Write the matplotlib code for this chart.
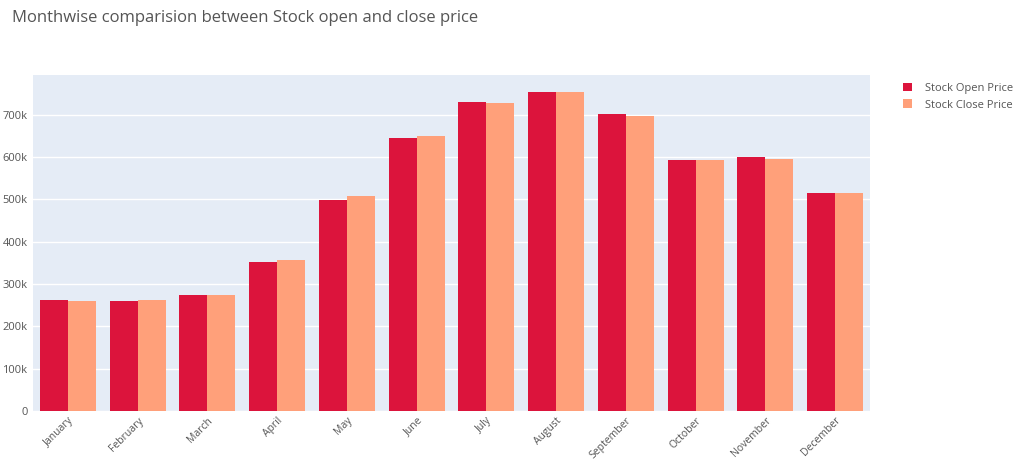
import numpy as np
import matplotlib.pyplot as plt
from matplotlib.ticker import FuncFormatter

plt.rcParams['font.family'] = ['Open Sans', 'DejaVu Sans']

# Monthly averages
months = ['January', 'February', 'March', 'April', 'May', 'June',
          'July', 'August', 'September', 'October', 'November', 'December']
open_price = [262000, 261000, 274000, 353000, 499000, 645000,
              731000, 755000, 701000, 593000, 600000, 516000]
close_price = [261000, 262000, 275000, 357000, 507000, 649000,
               729000, 753000, 697000, 594000, 595000, 514000]

fig = plt.figure(figsize=(10.23, 4.65), dpi=100)
ax = fig.add_axes([33/1023, 1-411/465, (870-33)/1023, (411-75)/465])

x = np.arange(len(months))
w = 0.4
ax.bar(x - w/2, open_price, w, color='#DC143C', label='Stock Open Price', zorder=3)
ax.bar(x + w/2, close_price, w, color='#FFA07A', label='Stock Close Price', zorder=3)

ax.set_facecolor('#E5ECF6')
ax.set_xlim(-0.5, len(months) - 0.5)
ax.set_ylim(0, 794000)
ax.set_yticks(np.arange(0, 800000, 100000))
ax.yaxis.set_major_formatter(FuncFormatter(lambda v, p: '0' if v == 0 else f'{int(v/1000)}k'))
ax.grid(axis='y', color='white', linewidth=1, zorder=0)
for s in ax.spines.values():
    s.set_visible(False)
ax.tick_params(length=0, colors='#555555', labelsize=8, pad=4)
ax.tick_params(axis='x', pad=3, labelsize=7.5)
ax.set_xticks(x)
ax.set_xticklabels(months, rotation=45, ha='right', rotation_mode='anchor')

fig.text(12/1023, 1-18/465, 'Monthwise comparision between Stock open and close price',
         fontsize=12, color='#555555', va='center', ha='left')

leg = ax.legend(loc='upper left', bbox_to_anchor=(1.03, 1.0), frameon=False,
                fontsize=8, handlelength=0.8, handleheight=0.8, handletextpad=1.2,
                labelcolor='#555555', borderaxespad=0.3)

fig.savefig('out.png', dpi=100)
